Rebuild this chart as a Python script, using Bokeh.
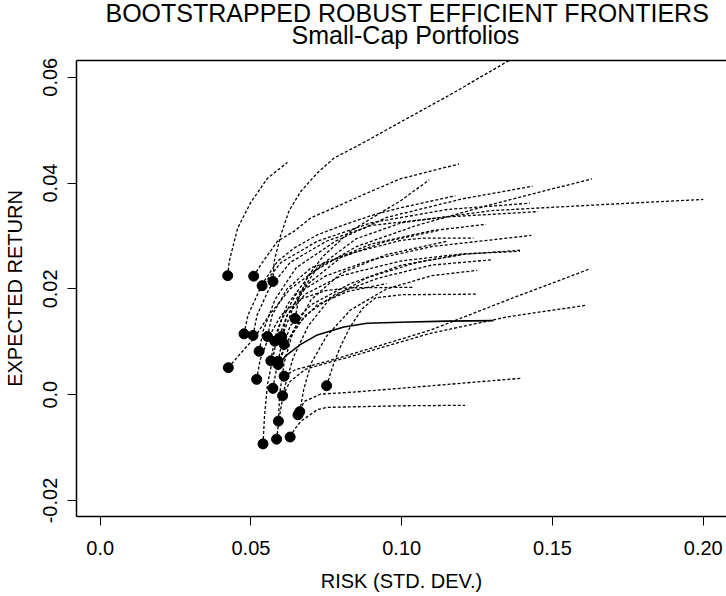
from bokeh.plotting import figure
from bokeh.models import Range1d, LinearAxis, FixedTicker, Title
from bokeh.embed import file_html
from bokeh.resources import INLINE

# ---------------- data ----------------
title_line1 = "BOOTSTRAPPED ROBUST EFFICIENT FRONTIERS"
title_line2 = "Small-Cap Portfolios"
x_title = "RISK (STD. DEV.)"
y_title = "EXPECTED RETURN"

x_tick_values = [0.0, 0.05, 0.10, 0.15, 0.20]
x_tick_labels = ["0.0", "0.05", "0.10", "0.15", "0.20"]
y_tick_values = [-0.02, 0.0, 0.02, 0.04, 0.06]
y_tick_labels = ["-0.02", "0.0", "0.02", "0.04", "0.06"]

# bootstrapped robust frontiers (risk, expected return); first point = min-variance portfolio
risk_01 = [0.0423, 0.0428, 0.0456, 0.0500, 0.0555, 0.0621]
ret_01 = [0.0225, 0.0252, 0.0315, 0.0364, 0.0409, 0.0439]
risk_02 = [0.0573, 0.0577, 0.0599, 0.0626, 0.0665, 0.0720, 0.0775, 0.0885, 0.0995, 0.1161, 0.1351, 0.1420]
ret_02 = [0.0214, 0.0252, 0.0302, 0.0347, 0.0384, 0.0419, 0.0447, 0.0480, 0.0515, 0.0567, 0.0630, 0.0652]
risk_03 = [0.0509, 0.0533, 0.0588, 0.0643, 0.0698, 0.0774, 0.0885, 0.0995, 0.1190]
ret_03 = [0.0224, 0.0246, 0.0290, 0.0309, 0.0334, 0.0353, 0.0381, 0.0408, 0.0436]
risk_04 = [0.0646, 0.0660, 0.0690, 0.0740, 0.0830, 0.0939, 0.0995, 0.1091]
ret_04 = [0.0144, 0.0185, 0.0225, 0.0262, 0.0309, 0.0347, 0.0366, 0.0406]
risk_05 = [0.0537, 0.0543, 0.0588, 0.0643, 0.0720, 0.0808, 0.0907, 0.0995, 0.1178]
ret_05 = [0.0206, 0.0214, 0.0252, 0.0277, 0.0302, 0.0321, 0.0340, 0.0353, 0.0376]
risk_06 = [0.0477, 0.0490, 0.0530, 0.0600, 0.0720, 0.0900, 0.1150, 0.1425]
ret_06 = [0.0115, 0.0150, 0.0200, 0.0250, 0.0290, 0.0325, 0.0350, 0.0362]
risk_07 = [0.0507, 0.0520, 0.0560, 0.0630, 0.0750, 0.0900, 0.1150, 0.1452]
ret_07 = [0.0112, 0.0150, 0.0200, 0.0250, 0.0290, 0.0320, 0.0336, 0.0346]
risk_08 = [0.0555, 0.0570, 0.0620, 0.0700, 0.0850, 0.1000, 0.1070, 0.1238]
ret_08 = [0.0110, 0.0150, 0.0200, 0.0240, 0.0270, 0.0292, 0.0296, 0.0296]
risk_09 = [0.0579, 0.0600, 0.0650, 0.0750, 0.0900, 0.1100, 0.1430]
ret_09 = [0.0101, 0.0140, 0.0190, 0.0225, 0.0255, 0.0280, 0.0301]
risk_10 = [0.0602, 0.0620, 0.0680, 0.0800, 0.1000, 0.1200, 0.1392]
ret_10 = [0.0110, 0.0150, 0.0190, 0.0225, 0.0253, 0.0266, 0.0271]
risk_11 = [0.0610, 0.0630, 0.0700, 0.0830, 0.1000, 0.1200, 0.1392]
ret_11 = [0.0095, 0.0130, 0.0170, 0.0210, 0.0245, 0.0265, 0.0273]
risk_12 = [0.0527, 0.0540, 0.0580, 0.0650, 0.0780, 0.0950, 0.1200, 0.1434]
ret_12 = [0.0082, 0.0120, 0.0180, 0.0240, 0.0290, 0.0335, 0.0370, 0.0394]
risk_13 = [0.0566, 0.0580, 0.0620, 0.0700, 0.0850, 0.1050, 0.1300, 0.1631]
ret_13 = [0.0064, 0.0110, 0.0170, 0.0230, 0.0280, 0.0320, 0.0360, 0.0408]
risk_14 = [0.0590, 0.0610, 0.0650, 0.0720, 0.0850, 0.1000, 0.1300, 0.1657, 0.2000]
ret_14 = [0.0063, 0.0120, 0.0180, 0.0240, 0.0295, 0.0325, 0.0348, 0.0359, 0.0369]
risk_15 = [0.0590, 0.0610, 0.0650, 0.0720, 0.0820, 0.0950]
ret_15 = [0.0057, 0.0090, 0.0130, 0.0170, 0.0195, 0.0210]
risk_16 = [0.0425, 0.0467, 0.0511, 0.0560, 0.0630, 0.0750, 0.0900, 0.1100, 0.1280]
ret_16 = [0.0051, 0.0079, 0.0107, 0.0150, 0.0200, 0.0250, 0.0285, 0.0310, 0.0322]
risk_17 = [0.0519, 0.0530, 0.0560, 0.0600, 0.0660, 0.0750, 0.0830, 0.1040]
ret_17 = [0.0029, 0.0065, 0.0110, 0.0150, 0.0180, 0.0197, 0.0202, 0.0203]
risk_18 = [0.0610, 0.0650, 0.0753, 0.0830, 0.1095, 0.1360, 0.1625]
ret_18 = [0.0035, 0.0048, 0.0063, 0.0076, 0.0122, 0.0181, 0.0238]
risk_19 = [0.0605, 0.0630, 0.0680, 0.0753, 0.0830, 0.1095, 0.1350, 0.1610]
ret_19 = [-0.0002, 0.0025, 0.0048, 0.0060, 0.0072, 0.0116, 0.0147, 0.0169]
risk_20 = [0.0573, 0.0585, 0.0620, 0.0680, 0.0780, 0.0920, 0.1100, 0.1300]
ret_20 = [0.0012, 0.0050, 0.0100, 0.0150, 0.0190, 0.0220, 0.0245, 0.0255]
risk_21 = [0.0751, 0.0775, 0.0800, 0.0830, 0.0870, 0.0913, 0.1000, 0.1249]
ret_21 = [0.0017, 0.0060, 0.0095, 0.0129, 0.0163, 0.0183, 0.0189, 0.0190]
risk_22 = [0.0656, 0.0676, 0.0731, 0.0841, 0.0995, 0.1395]
ret_22 = [-0.0038, -0.0013, 0.0001, 0.0005, 0.0012, 0.0031]
risk_23 = [0.0662, 0.0675, 0.0700, 0.0750, 0.0830, 0.0950, 0.1100, 0.1250]
ret_23 = [-0.0032, 0.0010, 0.0060, 0.0110, 0.0160, 0.0200, 0.0225, 0.0235]
risk_24 = [0.0591, 0.0595, 0.0610, 0.0640, 0.0700, 0.0800, 0.0950, 0.1150]
ret_24 = [-0.0050, 0.0000, 0.0060, 0.0120, 0.0180, 0.0230, 0.0265, 0.0290]
risk_25 = [0.0540, 0.0545, 0.0555, 0.0580, 0.0620, 0.0690, 0.0800, 0.0950, 0.1120]
ret_25 = [-0.0093, -0.0040, 0.0020, 0.0090, 0.0150, 0.0210, 0.0260, 0.0290, 0.0310]
risk_26 = [0.0585, 0.0595, 0.0610, 0.0640, 0.0690, 0.0760, 0.0880, 0.1050, 0.1200]
ret_26 = [-0.0084, -0.0040, 0.0010, 0.0070, 0.0130, 0.0180, 0.0220, 0.0250, 0.0265]
risk_27 = [0.0630, 0.0645, 0.0666, 0.0721, 0.0753, 0.0995, 0.1210]
ret_27 = [-0.0080, -0.0065, -0.0050, -0.0028, -0.0024, -0.0021, -0.0020]

# original (non-bootstrapped) robust frontier
risk_orig = [0.0605, 0.0616, 0.0665, 0.0720, 0.0808, 0.0885, 0.0995, 0.1150, 0.1304]
ret_orig = [0.0066, 0.0074, 0.0095, 0.0113, 0.0128, 0.0135, 0.0137, 0.0139, 0.0140]

boot_risk = [risk_01, risk_02, risk_03, risk_04, risk_05, risk_06, risk_07, risk_08, risk_09,
             risk_10, risk_11, risk_12, risk_13, risk_14, risk_15, risk_16, risk_17, risk_18,
             risk_19, risk_20, risk_21, risk_22, risk_23, risk_24, risk_25, risk_26, risk_27]
boot_ret = [ret_01, ret_02, ret_03, ret_04, ret_05, ret_06, ret_07, ret_08, ret_09,
            ret_10, ret_11, ret_12, ret_13, ret_14, ret_15, ret_16, ret_17, ret_18,
            ret_19, ret_20, ret_21, ret_22, ret_23, ret_24, ret_25, ret_26, ret_27]

# ---------------- figure ----------------
FONT = "Liberation Sans"

p = figure(width=726, height=596, output_backend="svg", toolbar_location=None,
           x_range=Range1d(-0.00785, 0.2077), y_range=Range1d(-0.02302, 0.06316),
           x_axis_type=None, y_axis_type=None,
           min_border_left=75, min_border_top=60, min_border_right=0, min_border_bottom=80)
p.outline_line_color = None
p.background_fill_color = "white"
p.border_fill_color = "white"

xaxis = LinearAxis(ticker=FixedTicker(ticks=x_tick_values),
                   major_label_overrides={v: s for v, s in zip(x_tick_values, x_tick_labels)},
                   axis_label=x_title)
yaxis = LinearAxis(ticker=FixedTicker(ticks=y_tick_values),
                   major_label_overrides={v: s for v, s in zip(y_tick_values, y_tick_labels)},
                   axis_label=y_title)
for ax in (xaxis, yaxis):
    ax.axis_line_color = "black"
    ax.axis_line_width = 1.5
    ax.major_tick_line_color = "black"
    ax.major_tick_line_width = 1
    ax.major_tick_out = 9
    ax.major_tick_in = 0
    ax.minor_tick_out = 0
    ax.minor_tick_in = 0
    ax.major_label_text_font = FONT
    ax.major_label_text_font_size = "20px"
    ax.major_label_text_color = "black"
    ax.axis_label_text_font = FONT
    ax.axis_label_text_font_size = "20px"
    ax.axis_label_text_font_style = "normal"
    ax.axis_label_text_color = "black"
xaxis.major_label_standoff = 15
xaxis.axis_label_standoff = 12
yaxis.major_label_standoff = 10
yaxis.axis_label_standoff = 15
yaxis.major_label_orientation = "vertical"
p.add_layout(xaxis, "below")
p.add_layout(yaxis, "left")

top_axis = LinearAxis(ticker=FixedTicker(ticks=[]), axis_line_color="black", axis_line_width=1.5,
                      major_tick_out=0, major_tick_in=0, minor_tick_out=0, minor_tick_in=0,
                      major_label_standoff=0, major_label_text_font_size="0px")
p.add_layout(top_axis, "above")

# two-line main title (first added sits nearest the plot)
p.add_layout(Title(text=title_line2, align="left", offset=215, text_font=FONT,
                   text_font_size="25px", text_font_style="normal", text_color="black",
                   standoff=24), "above")
p.add_layout(Title(text=title_line1, align="left", offset=29, text_font=FONT,
                   text_font_size="25px", text_font_style="normal", text_color="black",
                   standoff=-40), "above")

# frontiers
p.multi_line(xs=boot_risk, ys=boot_ret, line_color="black", line_width=1.3, line_dash="3 2")
p.line(risk_orig, ret_orig, line_color="black", line_width=1.6)
p.scatter(x=[r[0] for r in boot_risk], y=[r[0] for r in boot_ret], size=10,
          fill_color="black", line_color="black", marker="circle")

open("out.html", "w").write(file_html(p, INLINE))
